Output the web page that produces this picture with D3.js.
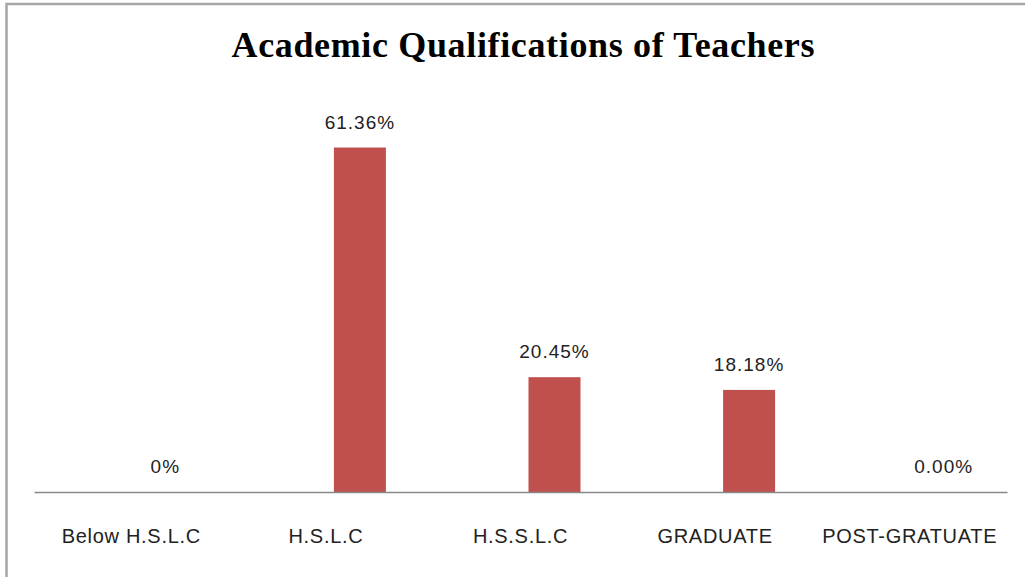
<!DOCTYPE html>
<html>
<head>
<meta charset="utf-8">
<script src="https://cdn.jsdelivr.net/npm/d3@7"></script>
<style>
  body { margin: 0; background: #fff; }
  svg { display: block; }
</style>
</head>
<body>
<div id="chart"></div>
<script>
// data
var categorias = ["Below H.S.L.C", "H.S.L.C", "H.S.S.L.C", "GRADUATE", "POST-GRATUATE"];
var valores = [0, 61.36, 20.45, 18.18, 0];
var etiquetas = ["0%", "61.36%", "20.45%", "18.18%", "0.00%"];

var ancho = 1025, alto = 577;
var colorBarra = "#C0504D";

var svg = d3.select("#chart").append("svg")
    .attr("width", ancho)
    .attr("height", alto);

// outer frame (right and bottom edges fall outside the picture)
svg.append("rect")
    .attr("x", 6.5).attr("y", 4)
    .attr("width", ancho + 20).attr("height", alto + 20)
    .attr("fill", "white")
    .attr("stroke", "#a6a6a6")
    .attr("stroke-width", 2.5);

// title
svg.append("text")
    .attr("x", 523)
    .attr("y", 57)
    .attr("text-anchor", "middle")
    .attr("font-family", "'Liberation Serif', 'Times New Roman', serif")
    .attr("font-weight", "bold")
    .attr("font-size", "36px")
    .attr("textLength", 583)
    .attr("lengthAdjust", "spacing")
    .attr("fill", "#000")
    .text("Academic Qualifications of Teachers");

var x = d3.scaleBand()
    .domain(categorias)
    .range([34, 1007]);

var y = d3.scaleLinear()
    .domain([0, 70])
    .range([492, 99]);

var anchoBarra = 52;
var desplazamiento = 34; // bars sit right of the category centre

function centroBarra(d, i) { return x(categorias[i]) + x.bandwidth() / 2 + desplazamiento; }

// bars
svg.selectAll("rect.barra")
    .data(valores)
    .enter()
    .append("rect")
    .attr("class", "barra")
    .attr("x", function (d, i) { return centroBarra(d, i) - anchoBarra / 2; })
    .attr("y", function (d) { return y(d); })
    .attr("width", anchoBarra)
    .attr("height", function (d) { return y(0) - y(d); })
    .attr("fill", colorBarra);

// value labels
svg.selectAll("text.valor")
    .data(valores)
    .enter()
    .append("text")
    .attr("class", "valor")
    .attr("x", function (d, i) { return centroBarra(d, i); })
    .attr("y", function (d) { return y(d) - 19; })
    .attr("text-anchor", "middle")
    .attr("font-family", "'Liberation Sans', Arial, sans-serif")
    .attr("font-size", "19px")
    .attr("letter-spacing", "1px")
    .attr("fill", "#222")
    .text(function (d, i) { return etiquetas[i]; });

// category axis
var eje = svg.append("g")
    .attr("transform", "translate(0," + y(0) + ")")
    .call(d3.axisBottom(x).tickSize(0).tickPadding(0));

eje.select(".domain")
    .attr("stroke", "#888")
    .attr("stroke-width", 1.5);

eje.selectAll("text")
    .attr("dy", null)
    .attr("y", 51)
    .attr("font-family", "'Liberation Sans', Arial, sans-serif")
    .attr("font-size", "20px")
    .attr("letter-spacing", "0.7px")
    .attr("fill", "#222");
</script>
</body>
</html>
